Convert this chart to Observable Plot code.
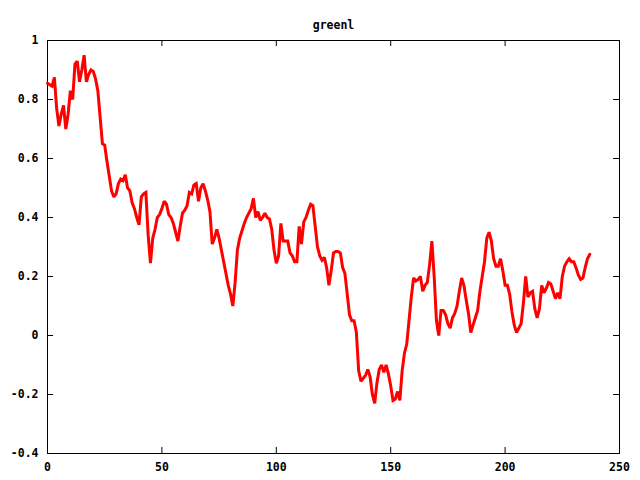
<!DOCTYPE html>
<html>
<head>
<meta charset="utf-8">
<script src="https://cdn.jsdelivr.net/npm/d3@7"></script>
<script src="https://cdn.jsdelivr.net/npm/@observablehq/plot@0.6"></script>
<style>
  html, body { margin: 0; padding: 0; background: #fff; }
</style>
</head>
<body>
<div id="chart"></div>
<script>
const title = "greenl";
const values = [
  0.855, 0.85, 0.845, 0.875, 0.77, 0.71, 0.75, 0.78, 0.70, 0.75,
  0.83, 0.80, 0.92, 0.93, 0.86, 0.90, 0.95, 0.86, 0.885, 0.90,
  0.895, 0.87, 0.83, 0.74, 0.65, 0.645, 0.59, 0.54, 0.49, 0.47,
  0.48, 0.515, 0.53, 0.525, 0.545, 0.50, 0.49, 0.45, 0.43, 0.40,
  0.375, 0.47, 0.48, 0.485, 0.34, 0.245, 0.33, 0.36, 0.40, 0.41,
  0.43, 0.455, 0.445, 0.41, 0.40, 0.38, 0.35, 0.32, 0.37, 0.415,
  0.425, 0.44, 0.485, 0.48, 0.51, 0.515, 0.455, 0.50, 0.515, 0.49,
  0.46, 0.42, 0.31, 0.33, 0.36, 0.33, 0.29, 0.25, 0.21, 0.17,
  0.14, 0.10, 0.18, 0.29, 0.33, 0.355, 0.38, 0.40, 0.415, 0.43,
  0.465, 0.40, 0.42, 0.39, 0.40, 0.415, 0.40, 0.395, 0.36, 0.29,
  0.245, 0.27, 0.38, 0.32, 0.32, 0.32, 0.28, 0.27, 0.25, 0.25,
  0.37, 0.31, 0.385, 0.40, 0.425, 0.445, 0.44, 0.37, 0.30, 0.27,
  0.255, 0.265, 0.23, 0.17, 0.22, 0.28, 0.285, 0.285, 0.28, 0.23,
  0.21, 0.14, 0.07, 0.05, 0.05, 0.01, -0.12, -0.155, -0.145, -0.135,
  -0.115, -0.14, -0.20, -0.23, -0.16, -0.115, -0.10, -0.125, -0.10, -0.13,
  -0.17, -0.22, -0.215, -0.19, -0.22, -0.12, -0.06, -0.03, 0.05, 0.13,
  0.195, 0.185, 0.19, 0.20, 0.15, 0.17, 0.18, 0.24, 0.32, 0.20,
  0.05, 0.00, 0.085, 0.085, 0.07, 0.04, 0.025, 0.06, 0.075, 0.10,
  0.15, 0.195, 0.17, 0.12, 0.075, 0.01, 0.035, 0.06, 0.085, 0.15,
  0.20, 0.25, 0.33, 0.35, 0.32, 0.26, 0.235, 0.235, 0.26, 0.22,
  0.17, 0.17, 0.14, 0.08, 0.035, 0.01, 0.025, 0.04, 0.11, 0.20,
  0.13, 0.145, 0.15, 0.09, 0.06, 0.09, 0.17, 0.145, 0.16, 0.18,
  0.175, 0.15, 0.125, 0.145, 0.125, 0.20, 0.235, 0.25, 0.26, 0.25,
  0.25, 0.23, 0.205, 0.19, 0.195, 0.23, 0.26, 0.275
];
const xTicks = [0, 50, 100, 150, 200, 250];
const yTicks = [-0.4, -0.2, 0, 0.2, 0.4, 0.6, 0.8, 1];

const data = values.map((v, i) => ({x: i, y: v}));

const W = 640, H = 480;
const mL = 47, mR = 21, mT = 40, mB = 27;
const pw = W - mL - mR, ph = H - mT - mB;
const tick = 6;
const font = "DejaVu Sans Mono, monospace";

const chart = Plot.plot({
  width: W,
  height: H,
  marginLeft: mL,
  marginRight: mR,
  marginTop: mT,
  marginBottom: mB,
  style: {fontFamily: font, fontSize: "11.5px", fontWeight: "bold", color: "#000", background: "#fff"},
  x: {domain: [0, 250]},
  y: {domain: [-0.4, 1]},
  marks: [
    Plot.axisX(xTicks, {tickSize: 0, tickPadding: 9, label: null, fontSize: 11.5, fontWeight: "bold", fill: "#000"}),
    Plot.axisY(yTicks, {tickSize: 0, tickPadding: 9, label: null, fontSize: 11.5, fontWeight: "bold", fill: "#000",
      tickFormat: d => String(+d.toFixed(1))}),
    Plot.tickX(xTicks, {x: d => d, insetTop: ph - tick, stroke: "#000", strokeWidth: 1}),
    Plot.tickX(xTicks, {x: d => d, insetBottom: ph - tick, stroke: "#000", strokeWidth: 1}),
    Plot.tickY(yTicks, {y: d => d, insetRight: pw - tick, stroke: "#000", strokeWidth: 1}),
    Plot.tickY(yTicks, {y: d => d, insetLeft: pw - tick, stroke: "#000", strokeWidth: 1}),
    Plot.frame({stroke: "#000", strokeWidth: 1}),
    Plot.line(data, {x: "x", y: "y", stroke: "#ff0000", strokeWidth: 3, strokeLinejoin: "miter", strokeMiterlimit: 2}),
    Plot.text([title], {frameAnchor: "top", dy: -20, fontSize: 11.5, fontWeight: "bold", fill: "#000"})
  ]
});
document.getElementById("chart").appendChild(chart);
</script>
</body>
</html>
